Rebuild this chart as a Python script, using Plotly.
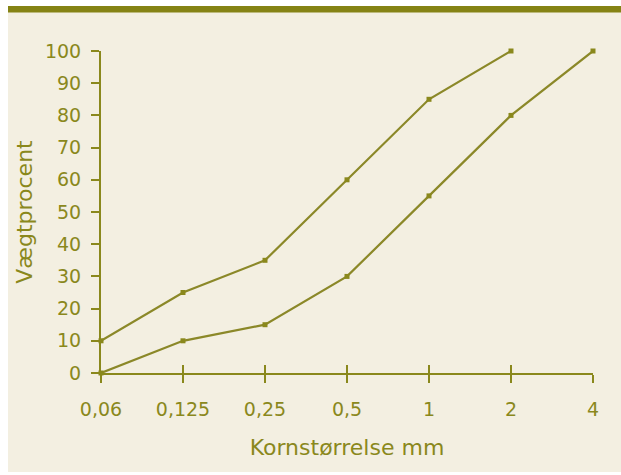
import plotly.graph_objects as go

categories = ["0,06", "0,125", "0,25", "0,5", "1", "2", "4"]
upper_values = [10, 25, 35, 60, 85, 100]
lower_values = [0, 10, 15, 30, 55, 80, 100]
y_ticks = list(range(0, 101, 10))

OLIVE = "#8a881c"
LINE = "#8b8828"
BAR = "#858314"
CREAM = "#f3efe1"
FONT = "DejaVu Sans"

idx = list(range(len(categories)))

fig = go.Figure()
for vals in (upper_values, lower_values):
    fig.add_trace(go.Scatter(
        x=idx[:len(vals)], y=vals, mode="lines+markers",
        line=dict(color=LINE, width=2.2),
        marker=dict(symbol="square", size=5, color=OLIVE),
        cliponaxis=False, showlegend=False, hoverinfo="skip",
    ))

W, H = 621, 475
L, R, T, B = 101, 28, 51, 102
pw, ph = W - L - R, H - T - B

def px_to_x(px):
    return (px - L) / pw

def py_to_y(py):
    return (H - B - py) / ph

fig.add_shape(type="rect", xref="paper", yref="paper",
              x0=px_to_x(8), x1=px_to_x(W + 5), y0=py_to_y(472), y1=py_to_y(12),
              fillcolor=CREAM, line_width=0, layer="below")
fig.add_shape(type="rect", xref="paper", yref="paper",
              x0=px_to_x(8), x1=px_to_x(W + 5), y0=py_to_y(12.5), y1=py_to_y(6),
              fillcolor=BAR, line_width=0, layer="below")

fig.update_layout(
    width=W, height=H,
    margin=dict(l=L, r=R, t=T, b=B, pad=0),
    paper_bgcolor="white",
    plot_bgcolor="rgba(0,0,0,0)",
    font=dict(family=FONT, size=19, color=OLIVE),
    xaxis=dict(
        range=[0, len(categories) - 1],
        tickvals=idx, ticktext=categories,
        ticks="outside", ticklen=8, tickwidth=2, tickcolor=OLIVE,
        showline=True, linecolor=OLIVE, linewidth=2,
        showgrid=False, zeroline=False,
        ticklabelstandoff=10,
        title=dict(text="Kornstørrelse mm", font=dict(size=22), standoff=21),
    ),
    xaxis2=dict(
        overlaying="x", anchor="y", side="bottom",
        range=[0, len(categories) - 1], tickvals=idx,
        ticks="inside", ticklen=8, tickwidth=2, tickcolor=OLIVE,
        showticklabels=False, showline=False, showgrid=False, zeroline=False,
    ),
    yaxis=dict(
        range=[0, 100], tickvals=y_ticks,
        ticks="outside", ticklen=8, tickwidth=2, tickcolor=OLIVE,
        showline=True, linecolor=OLIVE, linewidth=2,
        showgrid=False, zeroline=False,
        ticklabelstandoff=6,
        title=dict(text="Vægtprocent", font=dict(size=22), standoff=6),
    ),
)
# invisible trace to activate xaxis2
fig.add_trace(go.Scatter(x=[0], y=[0], xaxis="x2", mode="markers",
                         marker=dict(opacity=0), showlegend=False, hoverinfo="skip"))

fig.write_html("out.html", config={"displayModeBar": False},
               post_script="document.body.style.margin='0';")
